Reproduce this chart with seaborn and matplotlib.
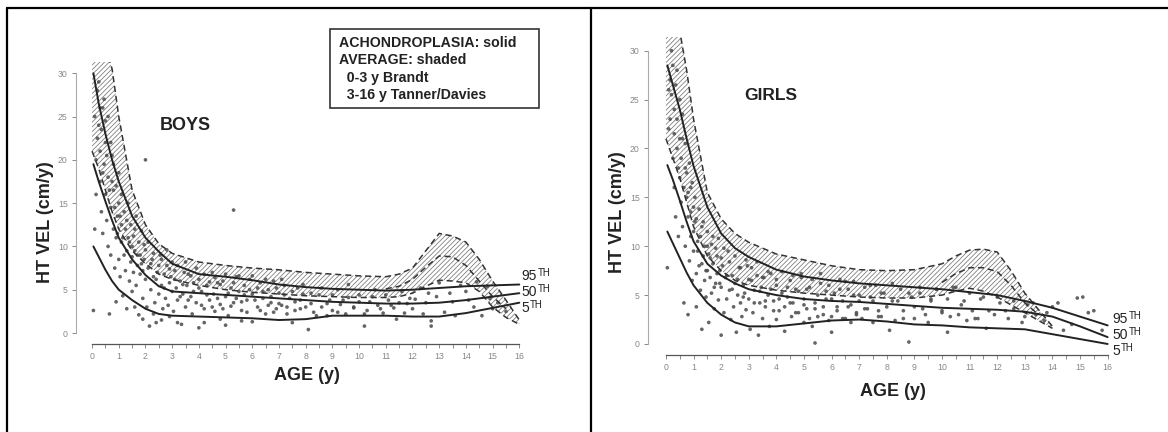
import numpy as np
import pandas as pd
import seaborn as sns
import matplotlib.pyplot as plt
from matplotlib.lines import Line2D
from matplotlib.ticker import FixedLocator

# ---- achondroplasia percentile curves (solid) ----
boys_age = [0.05, 0.25, 0.5, 0.75, 1, 1.5, 2, 2.5, 3, 4, 5, 6, 7, 8, 9, 10, 11, 12, 13, 14, 15, 16]
boys_p95 = [30, 26.5, 23, 20, 17.5, 13.5, 11, 9.4, 8, 6.8, 6.5, 6.1, 5.6, 5.3, 5.1, 5.0, 4.9, 5.0, 5.2, 5.4, 5.5, 5.6]
boys_p50 = [19.5, 17.5, 15.2, 13, 11, 8.5, 6.7, 5.4, 4.8, 4.6, 4.4, 4.2, 4.0, 3.8, 3.6, 3.5, 3.4, 3.4, 3.5, 3.8, 4.2, 4.6]
boys_p5 = [10, 8.8, 7.3, 6.0, 5.0, 3.8, 2.8, 2.2, 2.0, 1.9, 1.8, 1.7, 1.5, 1.6, 2.0, 2.0, 2.0, 1.9, 1.9, 2.3, 2.9, 3.5]

girls_age = [0.05, 0.25, 0.5, 0.75, 1, 1.5, 2, 2.5, 3, 4, 5, 6, 7, 8, 9, 10, 11, 12, 13, 14, 15, 16]
girls_p95 = [28.5, 26.5, 24, 21, 18.2, 14, 11.3, 9.8, 8.9, 7.6, 6.9, 6.5, 6.2, 6.0, 5.8, 5.6, 5.3, 5.0, 4.4, 3.7, 2.8, 1.9]
girls_p50 = [18.3, 16.8, 14.7, 12.5, 10.5, 8.2, 7.0, 6.2, 5.6, 5.0, 4.6, 4.4, 4.3, 4.1, 3.9, 3.7, 3.6, 3.5, 3.3, 2.8, 1.8, 0.7]
girls_p5 = [11.5, 10.3, 8.8, 7.3, 6.0, 4.2, 3.0, 2.2, 1.8, 1.8, 2.1, 2.4, 2.5, 2.3, 2.0, 1.9, 1.7, 1.6, 1.5, 1.0, 0.5, 0.0]

# ---- average population band (shaded) ----
boys_band_age = [0, 0.25, 0.5, 0.75, 1, 1.5, 2, 2.5, 3, 4, 5, 6, 7, 8, 9, 10, 11, 11.5, 12, 12.5, 13, 13.5, 14, 14.5, 15, 15.5, 16]
boys_band_hi = [40, 36, 33, 30.5, 25, 16.5, 12.5, 10.3, 9.2, 8.2, 7.8, 7.5, 7.3, 7.0, 6.8, 6.6, 6.5, 6.8, 7.5, 9.5, 11.5, 11.2, 10.5, 8.5, 6.0, 3.8, 1.5]
boys_band_lo = [21, 19, 16.5, 14, 12, 9.5, 8, 6.8, 6.2, 5.5, 5.0, 4.7, 4.5, 4.3, 4.2, 4.1, 4.1, 4.2, 4.6, 5.4, 6.1, 6.0, 5.8, 4.8, 3.0, 1.8, 1.0]
boys_mid_age = [11, 11.5, 12, 12.5, 13, 13.5, 14, 14.5, 15, 15.5]
boys_mid = [5.1, 5.4, 6.2, 7.6, 8.9, 8.8, 7.8, 6.0, 4.2, 2.8]

girls_band_age = [0, 0.5, 0.75, 1, 1.5, 2, 2.5, 3, 4, 5, 6, 7, 8, 9, 10, 10.5, 11, 11.5, 12, 12.5, 13, 13.5, 14]
girls_band_hi = [38, 32, 28, 23, 15.5, 12.8, 11.3, 10.4, 9.2, 8.6, 8.0, 7.6, 7.5, 7.6, 8.2, 9.0, 9.6, 9.7, 9.4, 7.5, 5.2, 3.5, 1.8]
girls_band_lo = [21, 17, 14.5, 12, 9, 7.5, 6.5, 6.0, 5.5, 5.2, 5.0, 4.8, 4.7, 4.7, 5.0, 5.4, 5.7, 5.4, 4.8, 4.0, 3.2, 2.4, 1.6]
girls_mid_age = [10, 10.5, 11, 11.5, 12, 12.5, 13, 13.5]
girls_mid = [6.3, 7.2, 7.8, 7.8, 7.4, 6.0, 4.2, 3.0]

# ---- individual measurements (dots) ----
boys_pt_age = [0.05, 0.1, 0.15, 0.2, 0.25, 0.3, 0.3, 0.35, 0.4, 0.4, 0.45, 0.5, 0.5, 0.55, 0.6, 0.6, 0.65, 0.7, 0.7, 0.75,
               0.8, 0.8, 0.85, 0.9, 0.9, 0.95, 1.0, 1.0, 1.05, 1.1, 1.1, 1.15, 1.2, 1.25, 1.3, 1.3, 1.35, 1.4, 1.45, 1.5,
               1.5, 1.55, 1.6, 1.65, 1.7, 1.75, 1.8, 1.85, 1.9, 1.95, 2.0, 2.0, 2.05, 2.1, 2.15, 2.2, 2.25, 2.3, 2.35, 2.4,
               2.45, 2.5, 2.55, 2.6, 2.65, 2.7, 2.75, 2.8, 2.85, 2.9, 2.95, 3.0, 3.05, 3.1, 3.15, 3.2, 3.3, 3.35, 3.4, 3.45,
               3.5, 3.55, 3.6, 3.7, 3.75, 3.8, 3.9, 4.0, 4.0, 4.1, 4.2, 4.3, 4.4, 4.5, 4.55, 4.6, 4.7, 4.8, 4.9, 5.0,
               5.0, 5.1, 5.2, 5.3, 5.3, 5.4, 5.5, 5.6, 5.7, 5.8, 5.9, 6.0, 6.0, 6.2, 6.3, 6.4, 6.5, 6.6, 6.7, 6.8,
               6.9, 7.0, 7.1, 7.2, 7.3, 7.4, 7.5, 7.6, 7.7, 7.8, 7.9, 8.1, 8.2, 8.3, 8.5, 8.6, 8.8, 8.9, 9.0, 9.2,
               9.3, 9.5, 9.6, 9.8, 10.0, 10.2, 10.3, 10.5, 10.7, 10.9, 11.1, 11.3, 11.5, 11.7, 11.9, 12.0, 12.3, 12.5, 12.7, 12.7,
               12.9, 13.2, 13.5, 13.8, 14.1, 14.4, 14.6, 14.9, 15.2, 15.5,
               0.1, 0.15, 0.2, 0.25, 0.3, 0.35, 0.4, 0.45, 0.5, 0.55, 0.6, 0.65, 0.7, 0.75, 0.8, 0.85, 0.9, 0.95, 1.0, 1.05,
               1.1, 1.15, 1.2, 1.25, 1.3, 1.35, 1.4, 1.45, 1.5, 1.55, 1.6, 1.65, 1.7, 1.75, 1.8, 1.85, 1.9, 1.95, 2.0, 2.1,
               2.2, 2.3, 2.4, 2.5, 2.6, 2.7, 2.8, 2.9, 3.0, 3.1, 3.2, 3.3, 3.4, 3.5, 3.6, 3.7, 3.8, 3.9, 4.0, 4.1,
               4.2, 4.3, 4.4, 4.5, 4.6, 4.7, 4.8, 4.9, 5.0, 5.1, 5.2, 5.3, 5.4, 5.5, 5.6, 5.7, 5.8, 5.9, 6.0, 6.1,
               6.2, 6.3, 6.4, 6.5, 6.6, 6.7, 6.8, 6.9, 7.0, 7.1, 7.2, 7.3, 7.5, 7.6, 7.8, 7.9, 8.0, 8.2, 8.4, 8.6,
               8.8, 9.0, 9.2, 9.4, 9.6, 9.8, 10.0, 10.2, 10.4, 10.6, 10.8, 11.0, 11.2, 11.4, 11.6, 11.8, 12.1, 12.4, 12.6, 13.0,
               13.4, 13.6, 14.0, 14.3, 14.8, 15.0, 1.6, 1.9, 2.3, 2.6, 2.9, 3.2, 4.2, 4.8, 5.6]
boys_pt_vel = [2.6, 12, 16, 28, 24, 21, 17.5, 14, 26, 11.5, 19.5, 22, 16, 13, 18, 10, 2.2, 14.5, 9, 20.5,
               12, 16.5, 7.5, 11, 3.6, 13.5, 8.5, 15, 6.5, 10.5, 12.5, 4.3, 9, 7.2, 13, 2.8, 11, 6, 8.2, 10,
               4.8, 7, 12, 5.5, 9, 2.1, 6.8, 8, 4, 10.2, 20, 6.2, 3, 7.5, 0.8, 5, 8.5, 6.5, 3.5, 1.2,
               7, 4.5, 9, 5.5, 2.8, 6.8, 4, 7.8, 3.2, 5.8, 6.5, 4.8, 2.5, 7.2, 5.2, 3.8, 6, 1.0, 4.5, 7,
               3, 5.5, 6.8, 4.2, 2.2, 5.8, 3.5, 6.2, 0.6, 4.8, 2.8, 5.5, 3.8, 7, 4.5, 2.5, 5.8, 3.3, 6, 4.2,
               0.9, 2, 5.2, 14.2, 3.5, 6.5, 4.8, 2.6, 5.5, 3.8, 6.2, 1.3, 4.5, 3, 5.8, 4, 2.2, 5, 3.5, 6,
               2.8, 4.6, 3.2, 5.5, 2.2, 4, 1.2, 3.6, 5.2, 2.8, 4.5, 0.4, 3.4, 2.4, 4.4, 3, 2, 3.8, 2.6, 5,
               3.3, 2.2, 4.1, 2.9, 3.6, 0.8, 2.6, 4.2, 3.2, 2.3, 3.8, 2.9, 3.5, 2.3, 4.0, 2.8, 5.2, 3.5, 0.8, 1.4,
               4.2, 2.4, 3.6, 5.5, 3.8, 5.9, 2.0, 4.0, 3.5, 2.5,
               25, 20, 22.5, 29, 26, 23.5, 18.5, 27, 24.5, 20.5, 25, 16.5, 22, 17.5, 19.5, 14.5, 17, 11.5, 18.5, 13.5,
               16, 11, 14, 12, 9.5, 15, 10.5, 12.5, 8.8, 11.2, 9.5, 13.5, 7.8, 10.5, 9, 11.8, 7.2, 8.5, 9.6, 10.5,
               8, 9.2, 6.2, 7.8, 8.5, 5.2, 9.6, 7.4, 8.2, 6.2, 7.8, 4.2, 5.6, 8.2, 3.8, 6.6, 4.8, 7.5, 5.2, 3.2,
               6.8, 4.4, 5.9, 3.0, 6.4, 4.0, 5.6, 2.8, 6.8, 4.6, 3.1, 5.8, 4.0, 6.6, 3.6, 4.4, 2.4, 5.0, 6.6, 3.8,
               5.2, 2.6, 4.8, 6.2, 3.2, 4.2, 2.4, 5.2, 3.4, 6.2, 4.4, 3.0, 4.8, 2.6, 3.8, 5.6, 3.0, 4.6, 2.0, 5.2,
               3.4, 4.4, 2.4, 3.8, 5.6, 3.0, 4.4, 2.2, 3.6, 5.0, 2.8, 4.4, 3.2, 1.6, 4.8, 3.4, 3.9, 2.2, 4.6, 5.8,
               4.6, 2.0, 4.8, 3.0, 5.4, 2.8, 3.0, 1.6, 2.2, 1.5, 1.9, 1.2, 1.2, 1.6, 1.4]

girls_pt_age = [0.05, 0.1, 0.15, 0.2, 0.25, 0.3, 0.3, 0.35, 0.4, 0.4, 0.45, 0.5, 0.5, 0.55, 0.6, 0.6, 0.65, 0.7, 0.7, 0.75,
                0.8, 0.8, 0.85, 0.9, 0.9, 0.95, 1.0, 1.0, 1.05, 1.1, 1.1, 1.15, 1.2, 1.25, 1.3, 1.3, 1.35, 1.4, 1.45, 1.5,
                1.5, 1.55, 1.6, 1.65, 1.7, 1.75, 1.8, 1.85, 1.9, 1.95, 2.0, 2.0, 2.05, 2.1, 2.15, 2.2, 2.25, 2.3, 2.35, 2.4,
                2.45, 2.5, 2.55, 2.6, 2.65, 2.7, 2.75, 2.8, 2.85, 2.9, 2.95, 3.0, 3.05, 3.1, 3.15, 3.2, 3.3, 3.35, 3.4, 3.45,
                3.5, 3.55, 3.6, 3.7, 3.75, 3.8, 3.9, 4.0, 4.0, 4.1, 4.2, 4.3, 4.4, 4.5, 4.55, 4.6, 4.7, 4.8, 4.9, 5.0,
                5.0, 5.1, 5.2, 5.3, 5.4, 5.4, 5.5, 5.6, 5.7, 5.8, 5.9, 6.0, 6.0, 6.2, 6.3, 6.4, 6.5, 6.6, 6.7, 6.8,
                6.9, 7.0, 7.1, 7.2, 7.3, 7.4, 7.5, 7.6, 7.7, 7.8, 7.9, 8.1, 8.2, 8.3, 8.5, 8.6, 8.8, 8.9, 9.0, 9.2,
                9.3, 9.5, 9.6, 9.8, 10.0, 10.2, 10.3, 10.5, 10.7, 10.9, 11.1, 11.3, 11.5, 11.6, 11.9, 12.1, 12.4, 12.6, 12.9, 13.1,
                13.4, 13.7, 14.0, 14.4, 14.7, 15.1, 15.3,
                0.1, 0.15, 0.2, 0.25, 0.3, 0.35, 0.4, 0.45, 0.5, 0.55, 0.6, 0.65, 0.7, 0.75, 0.8, 0.85, 0.9, 0.95, 1.0, 1.05,
                1.1, 1.15, 1.2, 1.25, 1.3, 1.35, 1.4, 1.45, 1.5, 1.55, 1.6, 1.65, 1.7, 1.75, 1.8, 1.85, 1.9, 1.95, 2.0, 2.1,
                2.2, 2.3, 2.4, 2.5, 2.6, 2.7, 2.8, 2.9, 3.0, 3.1, 3.2, 3.3, 3.4, 3.5, 3.6, 3.7, 3.8, 3.9, 4.0, 4.1,
                4.2, 4.3, 4.4, 4.5, 4.6, 4.7, 4.8, 4.9, 5.0, 5.1, 5.2, 5.3, 5.4, 5.5, 5.6, 5.7, 5.8, 5.9, 6.0, 6.1,
                6.2, 6.3, 6.4, 6.5, 6.6, 6.7, 6.8, 6.9, 7.0, 7.2, 7.4, 7.5, 7.7, 7.8, 8.0, 8.2, 8.4, 8.6, 8.8, 9.0,
                9.2, 9.4, 9.6, 9.8, 10.0, 10.2, 10.4, 10.6, 10.8, 11.0, 11.2, 11.4, 11.7, 12.0, 12.3, 12.6, 13.0, 13.3, 13.8, 14.2,
                14.9, 15.5, 15.8]
girls_pt_vel = [7.8, 22, 27, 30, 19, 24, 16, 13, 28, 20, 11, 25, 17, 14.5, 21, 12, 4.2, 18, 10, 15,
                3, 13, 8.5, 16, 11, 6.5, 9.5, 14, 12.5, 7.2, 3.8, 10.5, 8, 5.5, 12, 1.5, 9, 6.5, 4.8, 10,
                7.5, 2.2, 8.8, 5.2, 11, 3.6, 6.2, 9, 4.5, 7.5, 0.9, 5.8, 8, 3.2, 6.8, 4.6, 9.5, 5.5, 2.5, 7,
                3.8, 6.2, 1.2, 5, 7.8, 4.2, 2.8, 6, 5.2, 3.5, 8, 4.6, 1.5, 6.5, 3.2, 5.5, 7, 0.9, 4.2, 5.8,
                2.6, 6.8, 3.8, 5, 1.8, 7.2, 4.4, 2.5, 6, 3.4, 5.2, 1.3, 4.8, 6.5, 2.8, 4.2, 5.6, 3.2, 7.2, 2.2,
                4.6, 3.6, 5.8, 1.8, 0.1, 4.2, 2.8, 6.2, 3.8, 5.4, 2.4, 4.6, 1.2, 3.4, 5.6, 2.6, 6.4, 3.8, 2.2, 5,
                3.2, 4.4, 2.6, 5.8, 3.6, 4.8, 2.2, 6, 3.4, 2.8, 5.2, 1.4, 4.4, 2.4, 5.6, 3.4, 0.2, 4.8, 2.6, 5.2,
                3.6, 2.2, 4.4, 5.6, 3.2, 1.2, 2.8, 5.8, 4.0, 2.4, 3.4, 2.6, 4.8, 1.6, 3.0, 4.2, 2.6, 3.6, 2.2, 4.0,
                3.0, 2.4, 3.8, 1.4, 2.0, 4.8, 3.2,
                26, 23, 25.5, 28.5, 21.5, 26.5, 23, 18, 21, 19, 23.5, 16, 20.5, 17.5, 15.5, 18.5, 13.5, 16.5, 11.5, 15,
                12.8, 9.5, 13.8, 11, 8.2, 12.5, 10, 7.5, 11.5, 9.2, 6.8, 10.2, 8.2, 5.8, 9.8, 7.2, 10.8, 6.2, 8.8, 9.8,
                7.0, 8.4, 5.6, 9.0, 6.6, 7.8, 4.8, 8.6, 6.6, 7.8, 4.2, 8.4, 5.4, 6.8, 4.4, 7.4, 5.6, 3.4, 6.6, 4.6,
                7.4, 3.8, 5.8, 4.2, 7.0, 3.2, 5.4, 6.8, 4.0, 5.6, 2.6, 6.6, 3.6, 5.0, 7.2, 3.0, 4.6, 6.0, 2.8, 5.2,
                3.8, 6.6, 4.4, 2.6, 5.6, 4.0, 6.4, 3.0, 5.0, 3.6, 6.0, 4.4, 2.8, 5.2, 3.8, 6.2, 4.4, 2.6, 5.2, 3.8,
                5.8, 3.0, 4.6, 5.6, 3.4, 4.6, 5.8, 3.0, 4.4, 5.2, 2.6, 4.6, 3.4, 4.8, 3.4, 4.4, 2.8, 4.2, 3.2, 4.2,
                4.7, 3.4, 1.4]

sns.set_theme(style="white")
plt.rcParams['font.family'] = ['Liberation Sans', 'DejaVu Sans']
plt.rcParams['hatch.linewidth'] = 0.55
plt.rcParams['hatch.color'] = '#6f6f6f'

fig = plt.figure(figsize=(11.68, 4.32), dpi=100)
ax_b = fig.add_axes([0.0651, 0.2037, 0.3818, 0.6528])
ax_g = fig.add_axes([0.5548, 0.1782, 0.3973, 0.7361])


def draw_panel(ax, age, p95, p50, p5, bage, bhi, blo, mage, mid, pa, pv, xlim, ylim):
    ax.fill_between(bage, blo, bhi, facecolor='none', edgecolor='#777777', hatch='///////', linewidth=0)
    for yy in (bhi, blo):
        sns.lineplot(x=bage, y=yy, ax=ax, color='#333333', linestyle=(0, (4, 2.5)), linewidth=1.1, sort=False)
    sns.lineplot(x=mage, y=mid, ax=ax, color='#333333', linestyle=(0, (4, 2.5)), linewidth=1.1, sort=False)
    sns.scatterplot(x=pa, y=pv, ax=ax, s=7, color='#4a4a4a', edgecolor='none', alpha=0.85)
    for yy in (p95, p50, p5):
        sns.lineplot(x=age, y=yy, ax=ax, color='#222222', linewidth=1.4, sort=False)
    ax.set_xlim(*xlim)
    ax.set_ylim(*ylim)
    for s in ('top', 'right'):
        ax.spines[s].set_visible(False)
    ax.spines['left'].set_bounds(0, 30)
    ax.spines['bottom'].set_bounds(0, 16)
    ax.spines['left'].set_color('#aaaaaa')
    ax.spines['bottom'].set_color('#555555')
    ax.spines['left'].set_linewidth(0.8)
    ax.spines['bottom'].set_linewidth(0.9)
    ax.set_xticks(range(0, 17))
    ax.xaxis.set_minor_locator(FixedLocator([i + 0.5 for i in range(16)]))
    ax.set_yticks(range(0, 31, 5))
    ax.tick_params(axis='both', which='major', labelsize=6.3, colors='#777777', length=3, width=0.6, pad=3)
    ax.tick_params(axis='x', which='minor', length=3, width=0.6, color='#777777', bottom=True)
    ax.tick_params(axis='both', which='both', bottom=True, left=True)
    ax.tick_params(axis='x', labelcolor='#888888')
    ax.tick_params(axis='y', labelcolor='#888888')
    ax.set_xlabel('')
    ax.set_ylabel('')


draw_panel(ax_b, boys_age, boys_p95, boys_p50, boys_p5, boys_band_age, boys_band_hi, boys_band_lo,
           boys_mid_age, boys_mid, boys_pt_age, boys_pt_vel, (-0.6, 16.1), (-1.27, 31.3))
draw_panel(ax_g, girls_age, girls_p95, girls_p50, girls_p5, girls_band_age, girls_band_hi, girls_band_lo,
           girls_mid_age, girls_mid, girls_pt_age, girls_pt_vel, (-0.65, 16.16), (-1.13, 31.4))

W, H = 1168, 432


def ft(x, y, s, **kw):
    fig.text(x / W, 1 - y / H, s, **kw)


# titles and axis labels
ft(185, 125, 'BOYS', fontsize=13, fontweight='bold', ha='center', va='center', color='#222222')
ft(771, 96, 'GIRLS', fontsize=12.5, fontweight='bold', ha='center', va='center', color='#222222')
ft(307, 376, 'AGE (y)', fontsize=13, fontweight='bold', ha='center', va='center', color='#222222')
ft(893, 392, 'AGE (y)', fontsize=13, fontweight='bold', ha='center', va='center', color='#222222')
ft(45, 222, 'HT VEL (cm/y)', fontsize=13, fontweight='bold', ha='center', va='center', rotation=90, color='#222222')
ft(618, 212, 'HT VEL (cm/y)', fontsize=13, fontweight='bold', ha='center', va='center', rotation=90, color='#222222')

# percentile labels: number plus small raised "TH"
num_w = {'95': 15.8, '50': 15.8, '5': 7.9}
for x0, ys in ((521, (276, 292, 308)), (1112, (319, 335, 351))):
    for lab, yy in zip(('95', '50', '5'), ys):
        ft(x0, yy, lab, fontsize=10, ha='left', va='center', color='#222222')
        ft(x0 + num_w[lab] + 0.5, yy - 3, 'TH', fontsize=7, ha='left', va='center', color='#222222')

# legend box
lines = ['ACHONDROPLASIA: solid', 'AVERAGE: shaded', '  0-3 y Brandt', '  3-16 y Tanner/Davies']
for i, t in enumerate(lines):
    ft(339, 43 + i * 17.3, t, fontsize=10.2, fontweight='bold', ha='left', va='center', color='#222222')
fig.add_artist(plt.Rectangle((330 / W, 1 - 108 / H), (539 - 330) / W, (108 - 29) / H,
                             transform=fig.transFigure, fill=False, edgecolor='#333333', linewidth=1.2))

# panel frame
for xs, ys in (((7, 1168), (8, 8)), ((7, 7), (8, 432)), ((591, 591), (8, 432))):
    fig.add_artist(Line2D([x / W for x in xs], [1 - y / H for y in ys], color='black', linewidth=1.6,
                          transform=fig.transFigure))

fig.savefig('out.png', dpi=100, facecolor='white')
